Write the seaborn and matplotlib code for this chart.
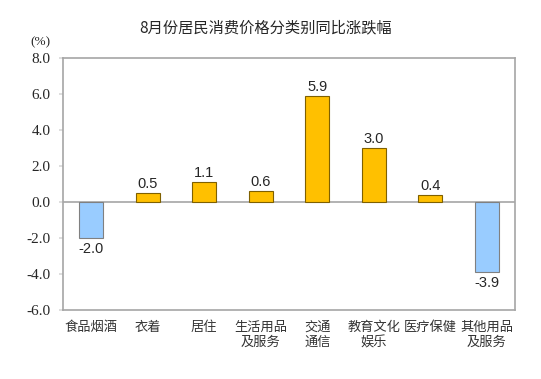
import pandas as pd
import seaborn as sns
import matplotlib.pyplot as plt

# 数据
categories = ['食品烟酒', '衣着', '居住', '生活用品\n及服务', '交通\n通信',
              '教育文化\n娱乐', '医疗保健', '其他用品\n及服务']
values = [-2.0, 0.5, 1.1, 0.6, 5.9, 3.0, 0.4, -3.9]
yticks = [-6.0, -4.0, -2.0, 0.0, 2.0, 4.0, 6.0, 8.0]
title = '8月份居民消费价格分类别同比涨跌幅'

pos_color, neg_color = '#FFC000', '#99CCFF'
colors = [pos_color if v >= 0 else neg_color for v in values]
edges = ['#7F6000' if v >= 0 else '#808080' for v in values]

sns.set_theme(style="white")
plt.rcParams['font.family'] = ['Noto Sans CJK SC', 'DejaVu Sans']

df = pd.DataFrame({'cat': categories, 'val': values})

fig = plt.figure(figsize=(5.41, 3.79), dpi=100)
ax = fig.add_axes([63 / 541, 1 - 310 / 379, (515 - 63) / 541, (310 - 58) / 379])

sns.barplot(data=df, x='cat', y='val', hue='cat', palette=colors, legend=False,
            width=0.42, ax=ax, saturation=1, linewidth=0.8)
for patch, ec in zip(ax.patches, edges):
    patch.set_edgecolor(ec)

ax.axhline(0, color='#A6A6A6', lw=1.2, zorder=0.5)
ax.set_ylim(-6, 8)
ax.set_yticks(yticks)
ax.set_yticklabels([f'{t:.1f}' for t in yticks], family='Liberation Serif', fontsize=11)
ax.set_xlabel('')
ax.set_ylabel('')
ax.tick_params(axis='x', length=0, labelsize=9.5, pad=8, colors='#333333')
ax.tick_params(axis='y', left=True, length=3, color='#D9D9D9', pad=6)
for s in ax.spines.values():
    s.set_color('#A6A6A6')
    s.set_linewidth(1.2)

for i, v in enumerate(values):
    off = 0.12 if v >= 0 else -0.2
    ax.text(i, v + off, f'{v:.1f}', ha='center', va='bottom' if v >= 0 else 'top',
            fontsize=10.5, family='Liberation Sans')

fig.text(0.49, 1 - 28 / 379, title, ha='center', va='center', fontsize=11)
fig.text(40 / 541, 1 - 42 / 379, '(%)', ha='center', va='center',
         family='Liberation Serif', fontsize=9.5)

fig.savefig('out.png', dpi=100)
